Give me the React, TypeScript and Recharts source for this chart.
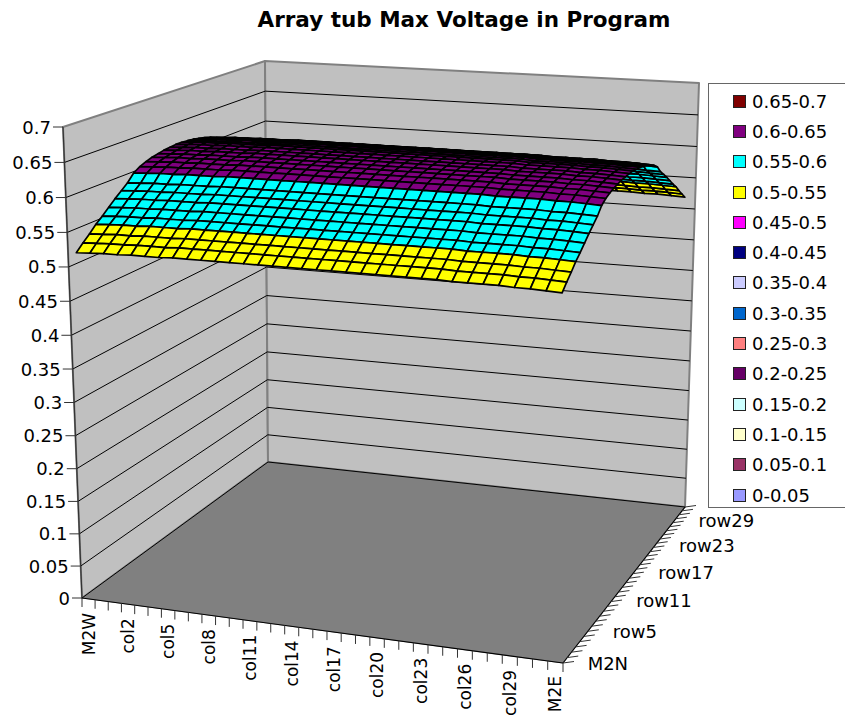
import { Legend, Scatter, ScatterChart, XAxis, YAxis } from "recharts";

const colNames = [
  "M2W", "col0", "col1", "col2", "col3", "col4", "col5", "col6", "col7", "col8", "col9", "col10",
  "col11", "col12", "col13", "col14", "col15", "col16", "col17", "col18", "col19", "col20", "col21",
  "col22", "col23", "col24", "col25", "col26", "col27", "col28", "col29", "col30", "col31", "M2E",
];
const rowNames = [
  "M2N", "row0", "row1", "row2", "row3", "row4", "row5", "row6", "row7", "row8", "row9", "row10",
  "row11", "row12", "row13", "row14", "row15", "row16", "row17", "row18", "row19", "row20", "row21",
  "row22", "row23", "row24", "row25", "row26", "row27", "row28", "row29", "row30", "row31", "M2S",
];
const valueTicks = [0, 0.05, 0.1, 0.15, 0.2, 0.25, 0.3, 0.35, 0.4, 0.45, 0.5, 0.55, 0.6, 0.65, 0.7];

// voltage read along the rows, front to back
const rowVoltage = [
  0.521, 0.531, 0.54, 0.55, 0.558, 0.567, 0.576, 0.584, 0.592, 0.603, 0.609, 0.613, 0.616, 0.618, 0.62, 0.621, 0.622,
  0.622, 0.621, 0.62, 0.618, 0.616, 0.613, 0.609, 0.603, 0.592, 0.584, 0.576, 0.567, 0.558, 0.55, 0.54, 0.531, 0.522,
];
// small shift read along the columns, left to right
const colShift = [
  -0.002, -0.001, 0, 0, 0.001, 0.001, 0.001, 0.002, 0.002, 0.002, 0.002, 0.002, 0.002, 0.002, 0.002, 0.002, 0.002,
  0.002, 0.002, 0.002, 0.002, 0.002, 0.002, 0.002, 0.002, 0.002, 0.001, 0.001, 0.001, 0.001, 0, 0, -0.001, -0.002,
];

const bands = ["0-0.05", "0.05-0.1", "0.1-0.15", "0.15-0.2", "0.2-0.25", "0.25-0.3", "0.3-0.35", "0.35-0.4", "0.4-0.45", "0.45-0.5", "0.5-0.55", "0.55-0.6", "0.6-0.65", "0.65-0.7"];
const bandColors = ["#9999ff", "#993366", "#ffffcc", "#ccffff", "#660066", "#ff8080", "#0066cc", "#ccccff", "#000080", "#ff00ff", "#ffff00", "#00ffff", "#800080", "#800000"];

const WIDTH = 845;
const HEIGHT = 717;
const FONT = "DejaVu Sans, Verdana, sans-serif";

type Pt = [number, number];
type Quad = [Pt, Pt, Pt, Pt];

// box corners on screen: (col 0,row 0), (col 1,row 0), (col 1,row 1), (col 0,row 1)
const floorCorners: Quad = [[82, 598], [563, 663], [685, 507], [268, 462]];
const topCorners: Quad = [[63, 127], [573, 160], [699, 83], [265, 61]];

function squareToQuad([p0, p1, p2, p3]: Quad) {
  const dx1 = p1[0] - p2[0];
  const dx2 = p3[0] - p2[0];
  const dy1 = p1[1] - p2[1];
  const dy2 = p3[1] - p2[1];
  const sx = p0[0] - p1[0] + p2[0] - p3[0];
  const sy = p0[1] - p1[1] + p2[1] - p3[1];
  const det = dx1 * dy2 - dx2 * dy1;
  const g = (sx * dy2 - dx2 * sy) / det;
  const h = (dx1 * sy - sx * dy1) / det;
  return (u: number, v: number): Pt => {
    const w = g * u + h * v + 1;
    return [
      ((p1[0] - p0[0] + g * p1[0]) * u + (p3[0] - p0[0] + h * p3[0]) * v + p0[0]) / w,
      ((p1[1] - p0[1] + g * p1[1]) * u + (p3[1] - p0[1] + h * p3[1]) * v + p0[1]) / w,
    ];
  };
}

const floorMap = squareToQuad(floorCorners);
const topMap = squareToQuad(topCorners);

function project(u: number, v: number, value: number): { x: number; y: number } {
  const s = value / 0.7;
  const t = s / (s + (1 - s) * 1.057);
  const a = floorMap(u, v);
  const b = topMap(u, v);
  return { x: a[0] + (b[0] - a[0]) * t, y: a[1] + (b[1] - a[1]) * t };
}

function pathOf(points: any[]) {
  return points.map((p, i) => `${i ? "L" : "M"}${p.x} ${p.y}`).join("");
}

const noDot = () => <g />;

// closed polygon through the library's scales
function polygon(key: string, data: { x: number; y: number }[], fill: string, stroke: string, strokeWidth: number) {
  return (
    <Scatter
      key={key}
      data={data}
      isAnimationActive={false}
      legendType="none"
      shape={noDot}
      line={(props: any) => <path d={pathOf(props.points) + "Z"} fill={fill} stroke={stroke} strokeWidth={strokeWidth} strokeLinejoin="round" />}
    />
  );
}

// data holds pairs of points, each pair is one segment
function segments(key: string, data: { x: number; y: number }[], stroke: string, strokeWidth: number) {
  return (
    <Scatter
      key={key}
      data={data}
      isAnimationActive={false}
      legendType="none"
      shape={noDot}
      line={(props: any) => {
        let d = "";
        for (let i = 0; i + 1 < props.points.length; i += 2) {
          d += pathOf([props.points[i], props.points[i + 1]]);
        }
        return <path d={d} fill="none" stroke={stroke} strokeWidth={strokeWidth} />;
      }}
    />
  );
}

function labels(key: string, data: { x: number; y: number; text: string }[], style: any) {
  return (
    <Scatter
      key={key}
      data={data}
      isAnimationActive={false}
      legendType="none"
      shape={(p: any) => {
        const { rotate, ...textStyle } = style;
        return (
          <text
            x={p.cx}
            y={p.cy}
            fontFamily={FONT}
            dominantBaseline="central"
            fill="#000"
            transform={rotate ? `rotate(${rotate} ${p.cx} ${p.cy})` : undefined}
            {...textStyle}
          >
            {p.payload.text}
          </text>
        );
      }}
    />
  );
}

const n = colNames.length;
const m = rowNames.length;
const innerTicks = valueTicks.filter((z) => z < 0.7);

const gridLeft = innerTicks.flatMap((z) => [project(0, 0, z), project(0, 1, z)]);
const gridBack = innerTicks.flatMap((z) => [project(0, 1, z), project(1, 1, z)]);
const valueTickMarks = valueTicks.flatMap((z) => {
  const p = project(0, 0, z);
  return [{ x: p.x - 10, y: p.y }, p];
});
const colTickMarks = Array.from({ length: n + 1 }, (_, i) => {
  const p = project(i / n, 0, 0);
  return [p, { x: p.x, y: p.y + 9 }];
}).flat();
const rowTickMarks = Array.from({ length: m + 1 }, (_, i) => {
  const p = project(1, i / m, 0);
  return [p, { x: p.x + 11, y: p.y - 1.5 }];
}).flat();

const valueLabels = valueTicks.map((z) => {
  const p = project(0, 0, z);
  return { x: p.x - 12, y: p.y, text: String(z) };
});
const colLabels = colNames
  .map((name, i) => {
    const p = project((i + 0.5) / n, 0, 0);
    return { x: p.x, y: p.y + 14, text: name };
  })
  .filter((_, i) => i % 3 === 0);
const rowLabels = rowNames
  .map((name, i) => {
    const p = project(1, (i + 0.5) / m, 0);
    return { x: p.x + 22.5 + i * 0.06, y: p.y + 3 - i * 0.1, text: name };
  })
  .filter((_, i) => i % 6 === 0 && i <= 30);

const surfaceVertices = rowNames.flatMap((_, r) =>
  colNames.map((__, c) => project((c + 0.35) / n, (r + 0.5) / m, rowVoltage[r] + colShift[c])),
);

function bandColor(value: number) {
  return bandColors[Math.min(bandColors.length - 1, Math.floor(value / 0.05))];
}

function SurfaceQuads({ points }: { points: any[] }) {
  const quads = [];
  // far rows first so the near ones cover them
  for (let r = m - 2; r >= 0; r--) {
    for (let c = 0; c < n - 1; c++) {
      const a = points[r * n + c];
      const b = points[r * n + c + 1];
      const d = points[(r + 1) * n + c + 1];
      const e = points[(r + 1) * n + c];
      const mean = (rowVoltage[r] + rowVoltage[r + 1]) / 2 + (colShift[c] + colShift[c + 1]) / 2;
      quads.push(
        <path key={`${r}-${c}`} d={pathOf([a, b, d, e]) + "Z"} fill={bandColor(mean)} stroke="#000" strokeWidth={1.7} strokeLinejoin="round" />,
      );
    }
  }
  return <g>{quads}</g>;
}

function LegendBox() {
  return (
    <div style={{ boxSizing: "border-box", width: 137, height: 425, border: "1px solid #666", borderRight: "none", background: "#fff", paddingTop: 2 }}>
      {bands
        .map((name, i) => ({ name, color: bandColors[i] }))
        .reverse()
        .map((item) => (
          <div key={item.name} style={{ display: "flex", alignItems: "center", height: 30.3, marginLeft: 24, fontFamily: FONT, fontSize: 18, color: "#000" }}>
            <span style={{ boxSizing: "border-box", width: 13, height: 13, background: item.color, border: "1.5px solid #222", marginRight: 6 }} />
            {item.name}
          </div>
        ))}
    </div>
  );
}

export default function App() {
  return (
    <div style={{ position: "absolute", left: 0, top: 0, width: WIDTH, height: HEIGHT, background: "#fff" }}>
      <ScatterChart width={WIDTH} height={HEIGHT} margin={{ top: 0, right: 0, bottom: 0, left: 0 }}>
        <XAxis type="number" dataKey="x" domain={[0, WIDTH]} hide />
        <YAxis type="number" dataKey="y" domain={[0, HEIGHT]} reversed hide />
        <Legend
          layout="vertical"
          align="center"
          verticalAlign="middle"
          content={<LegendBox />}
          wrapperStyle={{ position: "absolute", left: 708, top: 83, width: 137, height: 425 }}
        />
        {polygon("left-wall", [project(0, 0, 0), project(0, 1, 0), project(0, 1, 0.7), project(0, 0, 0.7)], "#c0c0c0", "#808080", 2)}
        {polygon("back-wall", [project(0, 1, 0), project(1, 1, 0), project(1, 1, 0.7), project(0, 1, 0.7)], "#c0c0c0", "#808080", 2)}
        {polygon("floor", [project(0, 0, 0), project(1, 0, 0), project(1, 1, 0), project(0, 1, 0)], "#808080", "#808080", 1)}
        {segments("grid-left", gridLeft, "#000", 1)}
        {segments("grid-back", gridBack, "#000", 1)}
        {segments("axis-value", [project(0, 0, 0), project(0, 0, 0.7)], "#333", 1.2)}
        {segments("axis-col", [project(0, 0, 0), project(1, 0, 0)], "#000", 1.2)}
        {segments("axis-row", [project(1, 0, 0), project(1, 1, 0)], "#000", 1.2)}
        {segments("ticks-value", valueTickMarks, "#333", 1)}
        {segments("ticks-col", colTickMarks, "#333", 1)}
        {segments("ticks-row", rowTickMarks, "#333", 1)}
        <Scatter
          data={surfaceVertices}
          isAnimationActive={false}
          legendType="none"
          shape={noDot}
          line={(props: any) => <SurfaceQuads points={props.points} />}
        />
        {labels("title", [{ x: 464, y: 19, text: "Array tub Max Voltage in Program" }], { textAnchor: "middle", fontSize: 21.5, fontWeight: 700 })}
        {labels("value-labels", valueLabels, { textAnchor: "end", fontSize: 18 })}
        {labels("col-labels", colLabels, { textAnchor: "end", fontSize: 17, rotate: -90 })}
        {labels("row-labels", rowLabels, { textAnchor: "start", fontSize: 18 })}
      </ScatterChart>
    </div>
  );
}
